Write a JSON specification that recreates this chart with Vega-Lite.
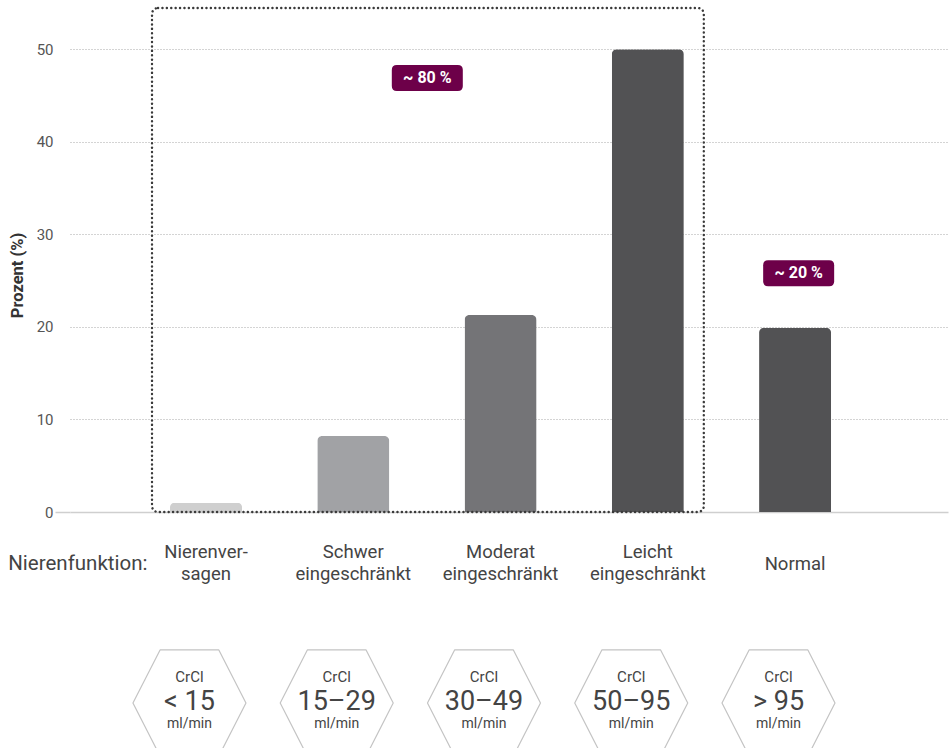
{
  "$schema": "https://vega.github.io/schema/vega-lite/v6.json",
  "width": 878,
  "height": 509,
  "autosize": {"type": "none"},
  "padding": {"left": 70, "top": 3, "right": 4, "bottom": 236},
  "background": "white",
  "config": {"view": {"stroke": null}, "font": "Roboto"},
  "datasets": {
    "bars": [
      {"cat": "Nierenversagen", "pct": 1.0, "crcl": "< 15"},
      {"cat": "Schwer eingeschränkt", "pct": 8.2, "crcl": "15–29"},
      {"cat": "Moderat eingeschränkt", "pct": 21.3, "crcl": "30–49"},
      {"cat": "Leicht eingeschränkt", "pct": 50.0, "crcl": "50–95"},
      {"cat": "Normal", "pct": 19.9, "crcl": "> 95"}
    ],
    "box": [{"from": "Nierenversagen", "to": "Leicht eingeschränkt", "top": 54.46, "bottom": 0}],
    "badges": [
      {"cat": "Schwer eingeschränkt", "y": 46.9, "text": "~ 80 %"},
      {"cat": "Normal", "y": 25.8, "text": "~ 20 %"}
    ]
  },
  "layer": [
    {
      "data": {"name": "bars"},
      "mark": {"type": "bar", "cornerRadiusTopLeft": 5, "cornerRadiusTopRight": 5},
      "encoding": {
        "x": {
          "field": "cat", "type": "nominal", "sort": null,
          "scale": {
            "domain": ["Nierenversagen", "Schwer eingeschränkt", "Moderat eingeschränkt", "Leicht eingeschränkt", "Normal"],
            "paddingInner": 0.511, "paddingOuter": 0.7366, "align": 0.461
          },
          "axis": {
            "title": "Nierenfunktion:",
            "titleX": 77, "titleY": 51, "titleAlign": "right", "titleBaseline": "middle",
            "titleFontSize": 20.5, "titleFontWeight": "normal", "titleColor": "#444",
            "labelExpr": "datum.label == 'Nierenversagen' ? ['Nierenver-', 'sagen'] : datum.label == 'Normal' ? 'Normal' : split(datum.label, ' ')",
            "labelFontSize": 18.5, "labelColor": "#444", "labelLineHeight": 22,
            "labelBaseline": "middle",
            "labelPadding": {"condition": {"test": "datum.value === 'Normal'", "value": 51}, "value": 39},
            "labelAngle": 0,
            "ticks": false, "domain": false
          }
        },
        "y": {
          "field": "pct", "type": "quantitative",
          "scale": {"domain": [0, 55], "nice": false},
          "axis": {
            "values": [0, 10, 20, 30, 40, 50],
            "title": "Prozent (%)", "titleFontSize": 16.5, "titleFontWeight": "bold", "titleColor": "#333", "titlePadding": 11,
            "titleY": 272,
            "labelFontSize": 15, "labelColor": "#555", "labelPadding": 2,
            "domain": false, "ticks": true, "tickSize": 15, "tickWidth": 1.5,
            "tickColor": {"condition": {"test": "datum.value === 0", "value": "#cfcfcf"}, "value": "transparent"},
            "grid": true,
            "gridColor": {"condition": {"test": "datum.value === 0", "value": "#cfcfcf"}, "value": "#a8a8a8"},
            "gridDash": {"condition": {"test": "datum.value === 0", "value": []}, "value": [1, 2]},
            "gridWidth": {"condition": {"test": "datum.value === 0", "value": 1.5}, "value": 1}
          }
        },
        "color": {
          "field": "cat", "type": "nominal", "legend": null,
          "scale": {
            "domain": ["Nierenversagen", "Schwer eingeschränkt", "Moderat eingeschränkt", "Leicht eingeschränkt", "Normal"],
            "range": ["#cfcfcf", "#a1a2a5", "#747477", "#525254", "#525254"]
          }
        }
      }
    },
    {
      "data": {"name": "box"},
      "mark": {"type": "rect", "fill": "transparent", "stroke": "#3a3a3a", "strokeWidth": 2.4, "strokeDash": [0.1, 4.3], "strokeCap": "round", "cornerRadius": 6, "xOffset": -18, "x2Offset": 20},
      "encoding": {
        "x": {"field": "from", "type": "nominal", "bandPosition": 0},
        "x2": {"field": "to", "bandPosition": 1},
        "y": {"field": "top", "type": "quantitative"},
        "y2": {"field": "bottom"}
      }
    },
    {
      "data": {"name": "badges"},
      "transform": [{"filter": "datum.cat == 'Schwer eingeschränkt'"}],
      "layer": [
        {
          "mark": {"type": "point", "shape": "M-0.86,-0.366 L0.86,-0.366 Q1,-0.366 1,-0.226 L1,0.226 Q1,0.366 0.86,0.366 L-0.86,0.366 Q-1,0.366 -1,0.226 L-1,-0.226 Q-1,-0.366 -0.86,-0.366 Z", "size": 5041, "filled": true, "fill": "#6d0049", "fillOpacity": 1, "strokeWidth": 0},
          "encoding": {
            "x": {"field": "cat", "type": "nominal", "bandPosition": 1.528},
            "y": {"field": "y", "type": "quantitative"}
          }
        },
        {
          "mark": {"type": "text", "color": "white", "fontSize": 16, "fontWeight": "bold", "baseline": "middle", "align": "center"},
          "encoding": {
            "x": {"field": "cat", "type": "nominal", "bandPosition": 1.528},
            "y": {"field": "y", "type": "quantitative"},
            "text": {"field": "text"}
          }
        }
      ]
    },
    {
      "data": {"name": "badges"},
      "transform": [{"filter": "datum.cat == 'Normal'"}],
      "layer": [
        {
          "mark": {"type": "point", "shape": "M-0.86,-0.366 L0.86,-0.366 Q1,-0.366 1,-0.226 L1,0.226 Q1,0.366 0.86,0.366 L-0.86,0.366 Q-1,0.366 -1,0.226 L-1,-0.226 Q-1,-0.366 -0.86,-0.366 Z", "size": 5041, "filled": true, "fill": "#6d0049", "fillOpacity": 1, "strokeWidth": 0},
          "encoding": {
            "x": {"field": "cat", "type": "nominal", "bandPosition": 0.55},
            "y": {"field": "y", "type": "quantitative"}
          }
        },
        {
          "mark": {"type": "text", "color": "white", "fontSize": 16, "fontWeight": "bold", "baseline": "middle", "align": "center"},
          "encoding": {
            "x": {"field": "cat", "type": "nominal", "bandPosition": 0.55},
            "y": {"field": "y", "type": "quantitative"},
            "text": {"field": "text"}
          }
        }
      ]
    },
    {
      "data": {"name": "bars"},
      "layer": [
        {
          "mark": {"type": "point", "shape": "M-1,0 L-0.52,-0.94 L0.52,-0.94 L1,0 L0.52,0.94 L-0.52,0.94 Z", "size": 12769, "filled": true, "fill": "white", "fillOpacity": 1, "stroke": "#c4c4c4", "strokeOpacity": 1, "strokeWidth": 1.2, "strokeJoin": "round"},
          "encoding": {
            "x": {"field": "cat", "type": "nominal", "bandPosition": 0.27},
            "y": {"datum": -20.64, "type": "quantitative"}
          }
        },
        {
          "mark": {"type": "text", "color": "#444", "fontSize": 15, "baseline": "middle", "align": "center"},
          "encoding": {
            "x": {"field": "cat", "type": "nominal", "bandPosition": 0.27},
            "y": {"datum": -17.85, "type": "quantitative"},
            "text": {"value": "CrCl"}
          }
        },
        {
          "mark": {"type": "text", "color": "#444", "fontSize": 27, "baseline": "middle", "align": "center"},
          "encoding": {
            "x": {"field": "cat", "type": "nominal", "bandPosition": 0.27},
            "y": {"datum": -20.5, "type": "quantitative"},
            "text": {"field": "crcl"}
          }
        },
        {
          "mark": {"type": "text", "color": "#444", "fontSize": 14, "baseline": "middle", "align": "center"},
          "encoding": {
            "x": {"field": "cat", "type": "nominal", "bandPosition": 0.27},
            "y": {"datum": -22.95, "type": "quantitative"},
            "text": {"value": "ml/min"}
          }
        }
      ]
    }
  ]
}
